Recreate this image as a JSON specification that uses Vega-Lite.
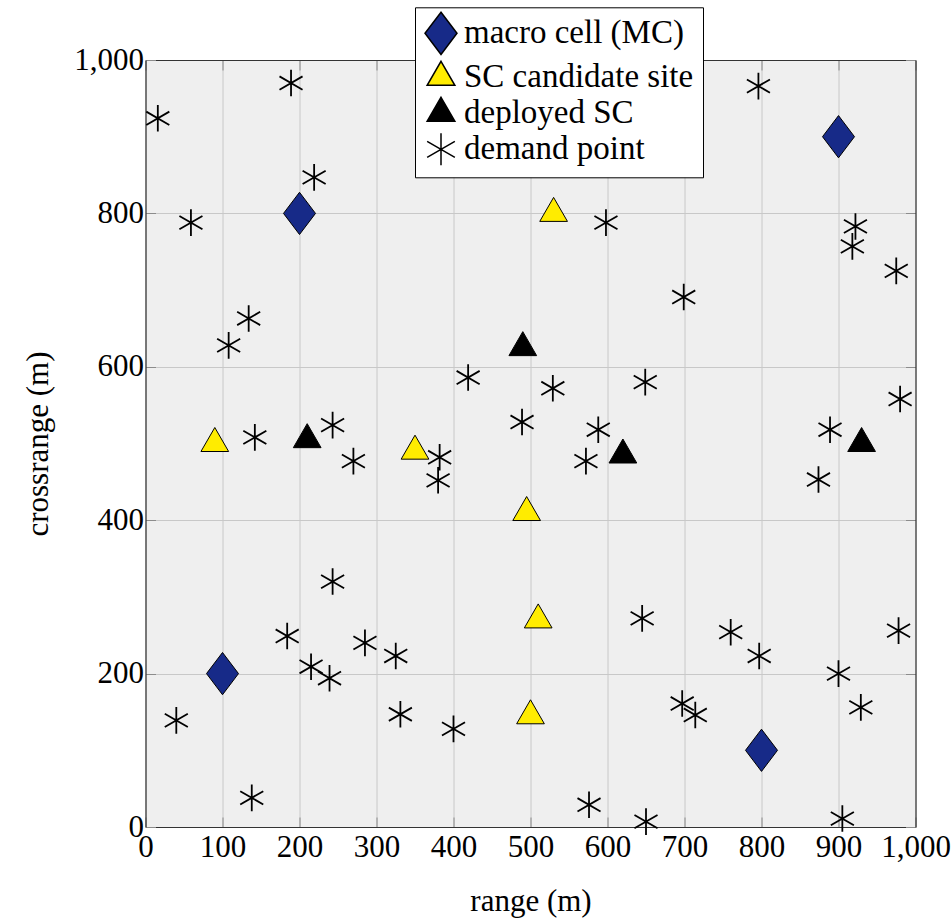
{
  "$schema": "https://vega.github.io/schema/vega-lite/v6.json",
  "width": 770,
  "height": 767,
  "autosize": {"type": "none"},
  "padding": {"left": 145.5, "top": 60, "right": 36.5, "bottom": 93},
  "background": "white",
  "config": {
    "style": {
      "guide-label": {"font": "Liberation Serif", "fill": "black"},
      "guide-title": {"font": "Liberation Serif", "fill": "black"}
    },
    "view": {"fill": "#efefef", "stroke": null},
    "axis": {
      "labelFont": "Liberation Serif",
      "labelFontSize": 31,
      "labelColor": "black",
      "titleFont": "Liberation Serif",
      "titleFontSize": 31,
      "titleFontWeight": "normal",
      "titleColor": "black",
      "gridColor": "#c8c8c8",
      "gridWidth": 1,
      "tickColor": "#8c8c8c",
      "tickWidth": 1,
      "tickSize": -10,
      "domainColor": "#333333",
      "domainWidth": 1.2,
      "labelFlush": false,
      "labelOverlap": false
    },
    "legend": {
      "title": null,
      "orient": "none",
      "legendX": 269.5,
      "legendY": -52.7,
      "fillColor": "white",
      "strokeColor": "black",
      "padding": 9,
      "gridAlign": "each",
      "rowPadding": 0,
      "labelOffset": 6,
      "labelFont": "Liberation Serif",
      "labelFontSize": 33,
      "labelColor": "black",
      "labelLimit": 400,
      "symbolSize": 1024
    }
  },
  "data": {
    "values": [
      {"x": 100, "y": 200, "type": "macro cell (MC)"},
      {"x": 200, "y": 800, "type": "macro cell (MC)"},
      {"x": 800, "y": 100, "type": "macro cell (MC)"},
      {"x": 900, "y": 900, "type": "macro cell (MC)"},
      {"x": 90, "y": 500, "type": "SC candidate site"},
      {"x": 350, "y": 490, "type": "SC candidate site"},
      {"x": 530, "y": 800, "type": "SC candidate site"},
      {"x": 495, "y": 410, "type": "SC candidate site"},
      {"x": 510, "y": 270, "type": "SC candidate site"},
      {"x": 500, "y": 145, "type": "SC candidate site"},
      {"x": 210, "y": 505, "type": "deployed SC"},
      {"x": 490, "y": 625, "type": "deployed SC"},
      {"x": 620, "y": 485, "type": "deployed SC"},
      {"x": 930, "y": 500, "type": "deployed SC"},
      {"x": 16, "y": 924, "type": "demand point"},
      {"x": 189, "y": 970, "type": "demand point"},
      {"x": 219, "y": 847, "type": "demand point"},
      {"x": 59, "y": 788, "type": "demand point"},
      {"x": 134, "y": 663, "type": "demand point"},
      {"x": 108, "y": 628, "type": "demand point"},
      {"x": 142, "y": 508, "type": "demand point"},
      {"x": 243, "y": 524, "type": "demand point"},
      {"x": 270, "y": 477, "type": "demand point"},
      {"x": 382, "y": 482, "type": "demand point"},
      {"x": 380, "y": 452, "type": "demand point"},
      {"x": 419, "y": 586, "type": "demand point"},
      {"x": 489, "y": 528, "type": "demand point"},
      {"x": 529, "y": 572, "type": "demand point"},
      {"x": 588, "y": 518, "type": "demand point"},
      {"x": 572, "y": 477, "type": "demand point"},
      {"x": 598, "y": 788, "type": "demand point"},
      {"x": 649, "y": 580, "type": "demand point"},
      {"x": 699, "y": 691, "type": "demand point"},
      {"x": 796, "y": 966, "type": "demand point"},
      {"x": 922, "y": 783, "type": "demand point"},
      {"x": 918, "y": 757, "type": "demand point"},
      {"x": 975, "y": 725, "type": "demand point"},
      {"x": 980, "y": 558, "type": "demand point"},
      {"x": 889, "y": 518, "type": "demand point"},
      {"x": 874, "y": 453, "type": "demand point"},
      {"x": 243, "y": 320, "type": "demand point"},
      {"x": 184, "y": 249, "type": "demand point"},
      {"x": 215, "y": 209, "type": "demand point"},
      {"x": 239, "y": 194, "type": "demand point"},
      {"x": 285, "y": 240, "type": "demand point"},
      {"x": 325, "y": 223, "type": "demand point"},
      {"x": 331, "y": 147, "type": "demand point"},
      {"x": 400, "y": 128, "type": "demand point"},
      {"x": 40, "y": 139, "type": "demand point"},
      {"x": 138, "y": 38, "type": "demand point"},
      {"x": 576, "y": 29, "type": "demand point"},
      {"x": 650, "y": 7, "type": "demand point"},
      {"x": 645, "y": 272, "type": "demand point"},
      {"x": 760, "y": 254, "type": "demand point"},
      {"x": 797, "y": 223, "type": "demand point"},
      {"x": 697, "y": 161, "type": "demand point"},
      {"x": 714, "y": 146, "type": "demand point"},
      {"x": 900, "y": 200, "type": "demand point"},
      {"x": 929, "y": 156, "type": "demand point"},
      {"x": 905, "y": 11, "type": "demand point"},
      {"x": 978, "y": 256, "type": "demand point"}
    ]
  },
  "layer": [
    {
      "mark": {"type": "point", "opacity": 1, "filled": true},
      "encoding": {
        "x": {
          "field": "x",
          "type": "quantitative",
          "scale": {"domain": [0, 1000], "nice": false, "zero": false},
          "axis": {
            "orient": "bottom",
            "values": [0, 100, 200, 300, 400, 500, 600, 700, 800, 900, 1000],
            "format": ",d",
            "grid": true,
            "labelFont": "Liberation Serif",
            "labelPadding": 15,
            "title": "range (m)",
            "titleX": 385,
            "titleY": 83,
            "titleBaseline": "alphabetic"
          }
        },
        "y": {
          "field": "y",
          "type": "quantitative",
          "scale": {"domain": [0, 1000], "nice": false, "zero": false},
          "axis": {
            "orient": "left",
            "values": [0, 200, 400, 600, 800, 1000],
            "format": ",d",
            "grid": true,
            "labelFont": "Liberation Serif",
            "labelPadding": 12,
            "title": "crossrange (m)",
            "titleAngle": 270,
            "titleX": -98.5,
            "titleY": 383.5,
            "titleBaseline": "alphabetic"
          }
        },
        "shape": {
          "field": "type",
          "type": "nominal",
          "scale": {
            "domain": ["macro cell (MC)", "SC candidate site", "deployed SC", "demand point"],
            "range": [
              "M0,-1.32L1,0L0,1.32L-1,0Z",
              "M0,-1L0.866,0.5L-0.866,0.5Z",
              "M0,-1L0.866,0.5L-0.866,0.5Z",
              "M0,-1L0,1M-0.866,-0.5L0.866,0.5M-0.866,0.5L0.866,-0.5"
            ]
          },
          "legend": {
            "title": null,
            "encode": {
              "symbols": {
                "size": {"value": {"expr": "datum.value === 'demand point' ? 708 : 1024"}},
                "strokeWidth": {"value": {"expr": "datum.value === 'demand point' ? 1.8 : 1"}}
              }
            }
          }
        },
        "fill": {
          "field": "type",
          "type": "nominal",
          "scale": {
            "domain": ["macro cell (MC)", "SC candidate site", "deployed SC", "demand point"],
            "range": ["#172a88", "#ffec00", "#000000", "transparent"]
          },
          "legend": {
            "title": null,
            "encode": {
              "symbols": {
                "size": {"value": {"expr": "datum.value === 'demand point' ? 708 : 1024"}},
                "strokeWidth": {"value": {"expr": "datum.value === 'demand point' ? 1.8 : 1"}}
              }
            }
          }
        },
        "stroke": {
          "field": "type",
          "type": "nominal",
          "scale": {
            "domain": ["macro cell (MC)", "SC candidate site", "deployed SC", "demand point"],
            "range": ["#000000", "#000000", "#000000", "#000000"]
          },
          "legend": {
            "title": null,
            "encode": {
              "symbols": {
                "size": {"value": {"expr": "datum.value === 'demand point' ? 708 : 1024"}},
                "strokeWidth": {"value": {"expr": "datum.value === 'demand point' ? 1.8 : 1"}}
              }
            }
          }
        },
        "size": {
          "condition": {"test": "datum.type === 'demand point'", "value": 708},
          "value": 1024
        },
        "strokeWidth": {
          "condition": {"test": "datum.type === 'demand point'", "value": 1.8},
          "value": 1
        }
      }
    },
    {
      "mark": {"type": "point", "opacity": 0},
      "encoding": {
        "x": {
          "field": "x",
          "type": "quantitative",
          "axis": {
            "orient": "top",
            "values": [0, 100, 200, 300, 400, 500, 600, 700, 800, 900, 1000],
            "labels": false,
            "grid": false,
            "title": null
          }
        },
        "y": {
          "field": "y",
          "type": "quantitative",
          "axis": {
            "orient": "right",
            "values": [0, 200, 400, 600, 800, 1000],
            "labels": false,
            "grid": false,
            "title": null
          }
        }
      }
    }
  ],
  "resolve": {"axis": {"x": "independent", "y": "independent"}}
}
